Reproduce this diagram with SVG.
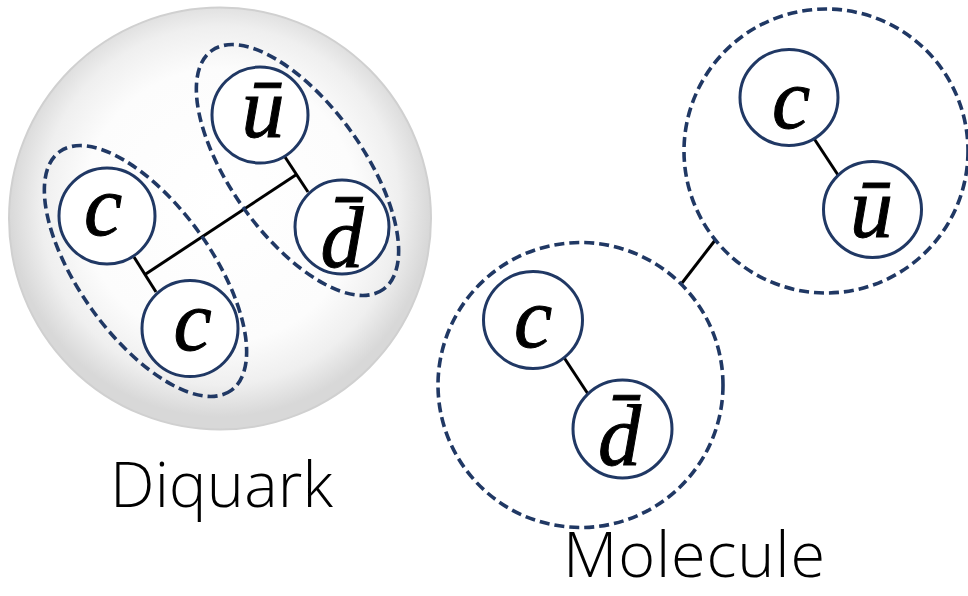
<svg xmlns="http://www.w3.org/2000/svg" width="968" height="596" viewBox="0 0 968 596">
<defs>
<radialGradient id="sphere" cx="0.5" cy="0.47" r="0.5">
<stop offset="0" stop-color="#ffffff"/>
<stop offset="0.65" stop-color="#fcfcfc"/>
<stop offset="0.85" stop-color="#efefef"/>
<stop offset="1" stop-color="#d8d8d8"/>
</radialGradient>
</defs>
<style>
.q{fill:#fff;stroke:#203864;stroke-width:3}
.grp{fill:none;stroke:#203864;stroke-width:3.6;stroke-dasharray:10 5}
.lk{stroke:#000;stroke-width:3;fill:none}
.m{font-family:"Liberation Serif","Times New Roman",serif;font-style:italic;font-size:86px;fill:#000;stroke:#000;stroke-width:1;text-anchor:middle}
.lab{font-family:"Open Sans","Liberation Sans",Arial,sans-serif;font-weight:300;font-size:63px;fill:#000}
</style>
<circle id="sphere-bg" cx="220" cy="218.5" r="211" fill="url(#sphere)" stroke="#d0d0d0" stroke-width="2"/>
<g id="connectors">
<line class="lk" x1="134" y1="257" x2="156" y2="292"/>
<line class="lk" x1="285" y1="157" x2="308" y2="192"/>
<line class="lk" x1="145" y1="274.5" x2="296.5" y2="174.5"/>
<line class="lk" x1="813" y1="137" x2="838" y2="175"/>
<line class="lk" x1="563" y1="356" x2="588" y2="394"/>
<line class="lk" x1="682" y1="283" x2="716" y2="239"/>
</g>
<g id="diquark-cc"><ellipse class="grp" cx="0" cy="0" rx="147" ry="66" transform="translate(145.5 271) rotate(54.3)"/></g>
<g id="diquark-ud"><ellipse class="grp" cx="0" cy="0" rx="147" ry="66" transform="translate(297.5 170) rotate(54.3)"/></g>
<g id="mol-cu"><circle class="grp" cx="826" cy="151" r="142"/></g>
<g id="mol-cd"><circle class="grp" cx="580.5" cy="385" r="142.5"/></g>
<g id="dq-c1"><circle class="q" cx="107" cy="216" r="48"/><text class="m" x="103" y="235">c</text></g>
<g id="dq-c2"><circle class="q" cx="190" cy="328.5" r="48"/><text class="m" x="192.5" y="350">c</text></g>
<g id="dq-ubar"><circle class="q" cx="260" cy="115" r="48"/><text class="m" x="263" y="137">ū</text></g>
<g id="dq-dbar"><circle class="q" cx="342" cy="227" r="47"/><text class="m" x="342" y="267">d̄</text></g>
<g id="mol-c1"><ellipse class="q" cx="789" cy="97.5" rx="49" ry="48"/><text class="m" x="791" y="128">c</text></g>
<g id="mol-ubar"><ellipse class="q" cx="872.5" cy="209.5" rx="49" ry="48"/><text class="m" x="871.5" y="237">ū</text></g>
<g id="mol-c2"><ellipse class="q" cx="533" cy="320" rx="49.5" ry="48.5"/><text class="m" x="533" y="347">c</text></g>
<g id="mol-dbar"><ellipse class="q" cx="622.5" cy="429" rx="49.5" ry="49"/><text class="m" x="619.5" y="465">d̄</text></g>
<text class="lab" x="110" y="507" textLength="223" lengthAdjust="spacing">Diquark</text>
<text class="lab" x="563" y="577" textLength="262" lengthAdjust="spacing">Molecule</text>
</svg>
